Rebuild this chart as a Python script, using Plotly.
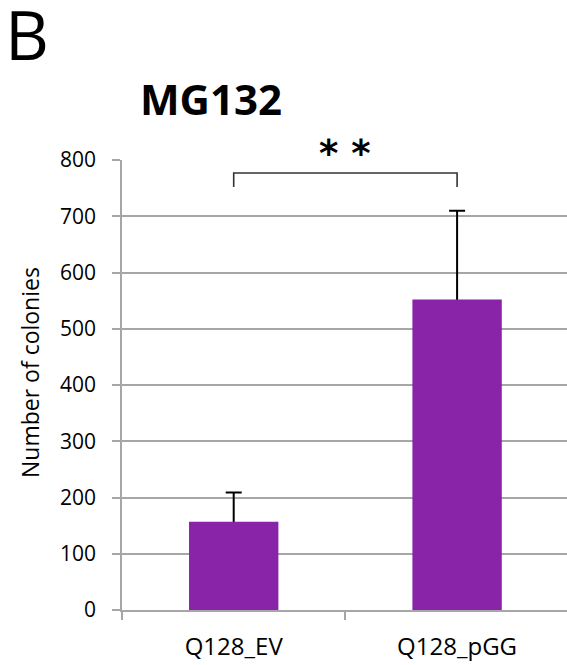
import plotly.graph_objects as go

# Colony counts after MG132 treatment
categories = ["Q128_EV", "Q128_pGG"]
colonies = [157, 552]
error_up = [52, 158]
y_ticks = [0, 100, 200, 300, 400, 500, 600, 700, 800]

bar_color = "#8923a8"
grid_color = "#a6a6a6"
font_family = "Open Sans, Noto Sans, sans-serif"

fig = go.Figure()
# Error bars sit on a transparent copy of the bars; the solid bars drawn
# afterwards hide the lower half so only the upward whisker shows.
fig.add_trace(go.Bar(
    x=categories,
    y=colonies,
    width=0.4,
    marker=dict(color="rgba(0,0,0,0)", line=dict(width=0)),
    error_y=dict(type="data", symmetric=True, array=error_up,
                 color="black", thickness=2, width=8),
    hoverinfo="skip",
))
fig.add_trace(go.Bar(
    x=categories,
    y=colonies,
    width=0.4,
    marker=dict(color=bar_color, line=dict(width=0)),
))

# Significance bracket between the two groups
bracket_top = 777
bracket_end = 752
fig.add_shape(type="path", xref="x", yref="y",
              path=f"M 0,{bracket_end} L 0,{bracket_top} L 1,{bracket_top} L 1,{bracket_end}",
              line=dict(color="#333333", width=1.6))

fig.update_layout(
    width=567, height=665,
    margin=dict(l=122, r=0, t=160, b=55),
    paper_bgcolor="white", plot_bgcolor="white",
    showlegend=False,
    barmode="overlay",
    font=dict(family=font_family, color="black"),
    xaxis=dict(
        type="category", range=[-0.5, 1.492],
        showline=True, linecolor=grid_color, linewidth=1.5,
        ticks="outside", tickson="boundaries", ticklen=8,
        tickcolor=grid_color, tickwidth=1.5,
        ticklabelstandoff=14,
        tickfont=dict(size=24, family=font_family),
        showgrid=False,
    ),
    yaxis=dict(
        range=[0, 800], tickvals=y_ticks,
        showline=True, linecolor=grid_color, linewidth=1.5,
        ticks="outside", ticklen=8, tickcolor=grid_color, tickwidth=1.5,
        ticklabelstandoff=12,
        tickfont=dict(size=21, family=font_family),
        showgrid=True, gridcolor=grid_color, gridwidth=1.5,
        zeroline=False,
    ),
)

# Texts placed in page pixels, converted to paper fractions
W, H = 567, 665
L, R, T, B = 122, 0, 160, 55
pw, ph = W - L - R, H - T - B


def px_x(x):
    return (x - L) / pw


def px_y(y):
    return (H - B - y) / ph


fig.add_annotation(x=px_x(3), xref="paper", y=px_y(33), yref="paper", text="B",
                   showarrow=False, xanchor="left", yanchor="middle",
                   font=dict(size=68, family=font_family, color="black"))
fig.add_annotation(x=px_x(211), xref="paper", y=px_y(99), yref="paper",
                   text="<b>MG132</b>", showarrow=False,
                   xanchor="center", yanchor="middle",
                   font=dict(size=42, family=font_family, color="black"))
fig.add_annotation(x=px_x(30), xref="paper", y=px_y(373), yref="paper",
                   text="Number of colonies", showarrow=False,
                   textangle=-90, xanchor="center", yanchor="middle",
                   font=dict(size=23, family=font_family, color="black"))
fig.add_annotation(x=0.5, xref="x", y=px_y(153), yref="paper",
                   text="<b>* *</b>", showarrow=False,
                   xanchor="center", yanchor="middle",
                   font=dict(family="DejaVu Sans", size=37, color="black"))

fig.write_html("out.html")
